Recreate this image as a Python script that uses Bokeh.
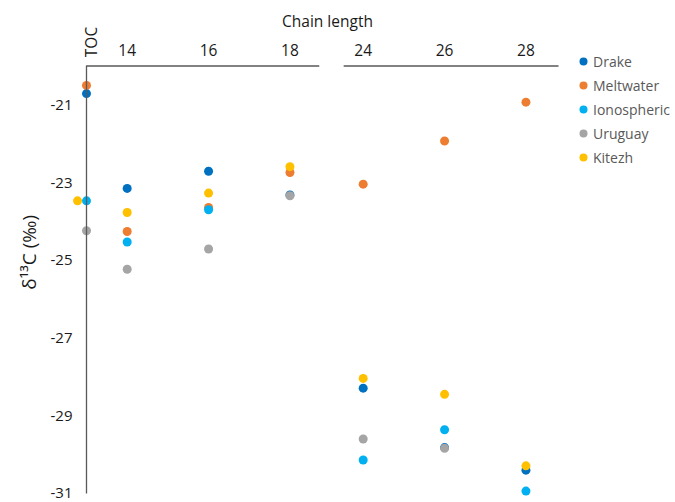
import math
from bokeh.plotting import figure
from bokeh.models import (Range1d, LinearAxis, FixedTicker, Label, Legend,
                          LegendItem, ColumnDataSource)
from bokeh.embed import file_html
from bokeh.resources import INLINE

nan = float("nan")

# ---- data ----
categories = ["TOC", "14", "16", "18", "24", "26", "28"]
series_names = ["Drake", "Meltwater", "Ionospheric", "Uruguay", "Kitezh"]
drake = [-20.71, -23.15, -22.71, -23.32, -28.29, -29.82, -30.40]
meltwater = [-20.50, -24.26, -23.64, -22.74, -23.04, -21.93, -20.93]
ionospheric = [-23.47, -24.53, -23.70, nan, -30.14, -29.36, -30.94]
uruguay = [-24.24, -25.23, -24.71, -23.34, -29.60, -29.84, nan]
kitezh = [-23.47, -23.77, -23.27, -22.59, -28.04, -28.45, -30.29]
y_ticks = [-21, -23, -25, -27, -29, -31]
y_tick_labels = ["-21", "-23", "-25", "-27", "-29", "-31"]

# ---- layout (category positions along broken top axis, in tenths) ----
cat_x = [0, 5, 15, 25, 34, 44, 54]
x_end = 58
break_start, break_end = 28.6, 31.6
kitezh_toc_shift = -1.1
y_top, y_bottom = -20, -31

colors = ["#0070C0", "#ED7D31", "#00B0F0", "#A5A5A5", "#FFC000"]
values = [drake, meltwater, ionospheric, uruguay, kitezh]
axis_color = "#595959"
text_color = "#1a1a1a"
font = "Open Sans"

p = figure(width=675, height=502, x_range=Range1d(-10.568, 72.377),
           y_range=Range1d(-31.233, -18.3145), output_backend="svg",
           toolbar_location=None, x_axis_location=None, y_axis_location=None,
           min_border_left=0, min_border_right=0,
           min_border_top=0, min_border_bottom=0)
p.grid.visible = False
p.outline_line_color = None
p.background_fill_color = "white"
p.border_fill_color = "white"

# left axis, fixed at the TOC position
ya = LinearAxis(fixed_location=0, bounds=(y_bottom, y_top),
                ticker=FixedTicker(ticks=y_ticks),
                major_label_overrides=dict(zip(y_ticks, y_tick_labels)))
ya.axis_line_color = axis_color
ya.axis_line_width = 1.3
ya.major_tick_line_color = None
ya.minor_tick_line_color = None
ya.major_tick_out = 0
ya.major_tick_in = 0
ya.major_label_standoff = 14
ya.major_label_text_font = font
ya.major_label_text_font_size = "15px"
ya.major_label_text_color = text_color
p.add_layout(ya, "left")

# top axis (labels only; line drawn broken)
ta = LinearAxis(fixed_location=y_top, bounds=(0, 59.2),
                ticker=FixedTicker(ticks=cat_x[1:]),
                major_label_overrides=dict(zip(cat_x[1:], categories[1:])),
                axis_label="Chain length")
ta.axis_line_color = None
ta.major_tick_line_color = None
ta.minor_tick_line_color = None
ta.major_tick_out = 0
ta.major_tick_in = 0
ta.major_label_standoff = 10
ta.major_label_text_font = font
ta.major_label_text_font_size = "15.5px"
ta.major_label_text_color = text_color
ta.axis_label_text_font = font
ta.axis_label_text_font_size = "15.5px"
ta.axis_label_text_font_style = "normal"
ta.axis_label_text_color = text_color
ta.axis_label_standoff = 9
p.add_layout(ta, "above")

p.segment(x0=[0, break_end], y0=[y_top, y_top], x1=[break_start, x_end], y1=[y_top, y_top],
          line_color=axis_color, line_width=1.5)

items = []
for name, col, vals in zip(series_names, colors, values):
    xs = list(cat_x)
    if name == "Kitezh":
        xs[0] = cat_x[0] + kitezh_toc_shift
    src = ColumnDataSource(dict(x=xs, y=vals))
    r = p.scatter("x", "y", source=src, size=9, fill_color=col, line_color=None)
    items.append(LegendItem(label=name, renderers=[r]))

legend = Legend(items=items, location=(573, 333), border_line_color=None,
                background_fill_alpha=0, padding=0, margin=0, spacing=0,
                glyph_width=20, glyph_height=24, label_height=24,
                label_standoff=0, label_text_font=font,
                label_text_font_size="14px", label_text_color="#595959")
p.add_layout(legend)

# TOC label (rotated) and y-axis title
p.add_layout(Label(x=cat_x[0], y=y_top, x_offset=4, y_offset=24, text="TOC",
                   angle=math.pi / 2, text_align="center", text_baseline="middle",
                   text_font=font, text_font_size="15.5px", text_color=text_color))
p.add_layout(Label(x=0, y=-25, x_offset=-58, y_offset=8, text="δ¹³C (‰)",
                   angle=math.pi / 2, text_align="center", text_baseline="middle",
                   text_font=font, text_font_size="19px", text_color=text_color))

open("out.html", "w").write(file_html(p, INLINE))
